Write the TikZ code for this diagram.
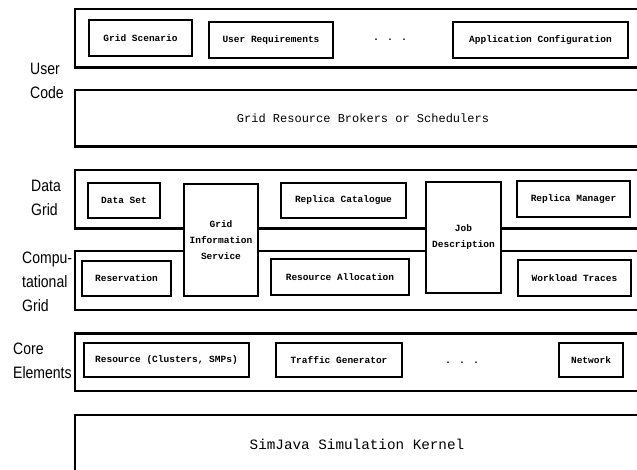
\documentclass[tikz,border=0pt]{standalone}
\usepackage{fontspec}
\setmainfont{Liberation Sans}
\newfontfamily\monofont{Liberation Mono}
\newfontfamily\narrowfont[FakeStretch=0.85]{Liberation Sans}
\begin{document}
\begin{tikzpicture}[x=1pt,y=-1pt,
  outerbox/.style={draw=black,line width=2.5pt,fill=white,inner sep=0pt,outer sep=0pt},
  inbox/.style={draw=black,line width=2.4pt,fill=white,inner sep=0pt,outer sep=0pt,
     font=\monofont\bfseries\fontsize{9.5}{16}\selectfont,align=center},
  bigtext/.style={inner sep=0pt,font=\monofont\fontsize{12}{14}\selectfont},
  sidelabel/.style={inner sep=0pt,anchor=west,align=left,font=\narrowfont\fontsize{16.5}{24}\selectfont},
  dots/.style={inner sep=0pt,font=\monofont\bfseries\fontsize{10}{12}\selectfont}]
\useasboundingbox (0,0) rectangle (637,470);
\clip (0,0) rectangle (637,470);
% outer layers
\node[outerbox,minimum width=624.75pt,minimum height=58.5pt] (user) at (387.6,38.5) {};
\node[outerbox,minimum width=624.75pt,minimum height=56.5pt] (brokers) at (387.6,118.5) {};
\node[outerbox,minimum width=624.75pt,minimum height=58.5pt] (datagrid) at (387.6,199.5) {};
\node[outerbox,minimum width=624.75pt,minimum height=58.5pt] (compgrid) at (387.6,280.5) {};
\node[outerbox,minimum width=624.75pt,minimum height=57.5pt] (core) at (387.6,362) {};
\node[outerbox,minimum width=624.75pt,minimum height=104.75pt] (kernel) at (387.6,467.6) {};
% user code
\node[inbox,minimum width=102.5pt,minimum height=35.5pt] (scen) at (140.5,38) {Grid Scenario};
\node[inbox,minimum width=123.5pt,minimum height=35.5pt] (ureq) at (271,40) {User Requirements};
\node[dots] (udots) at (390,40) {. . .};
\node[inbox,minimum width=174.5pt,minimum height=35.5pt] (appconf) at (540.5,40) {Application Configuration};
\node[bigtext] (brokerstext) at (363,118) {Grid Resource Brokers or Schedulers};
% data grid
\node[inbox,minimum width=71.5pt,minimum height=34.5pt] (dataset) at (124,200.5) {Data Set};
\node[inbox,minimum width=124.5pt,minimum height=34.5pt] (repcat) at (343.5,200.5) {Replica Catalogue};
\node[inbox,minimum width=112.5pt,minimum height=35.5pt] (repman) at (573.5,199) {Replica Manager};
% computational grid
\node[inbox,minimum width=88.5pt,minimum height=34.5pt] (resv) at (126.5,278.5) {Reservation};
\node[inbox,minimum width=137.5pt,minimum height=35.5pt] (resalloc) at (340,277) {Resource Allocation};
\node[inbox,minimum width=112.5pt,minimum height=35.5pt] (wltrace) at (574.5,278) {Workload Traces};
% spanning boxes
\node[inbox,minimum width=73.5pt,minimum height=111.5pt] (gis) at (221,240) {Grid\\Information\\Service};
\node[inbox,minimum width=74.5pt,minimum height=110.5pt] (jobdesc) at (463.5,237.5) {Job\\Description};
% core elements
\node[inbox,minimum width=164.5pt,minimum height=33.5pt] (resource) at (166.5,360) {Resource (Clusters, SMPs)};
\node[inbox,minimum width=125.5pt,minimum height=33.5pt] (traffic) at (339,360) {Traffic Generator};
\node[dots] (cdots) at (462,363) {. . .};
\node[inbox,minimum width=63.5pt,minimum height=33.5pt] (network) at (591,360) {Network};
% kernel
\node[bigtext,font=\monofont\fontsize{14.3}{16}\selectfont] (kerneltext) at (357,444) {SimJava Simulation Kernel};
% side labels
\node[sidelabel] (lbluser) at (30,80.5) {User\\Code};
\node[sidelabel] (lbldata) at (31,197.5) {Data\\Grid};
\node[sidelabel] (lblcomp) at (22,282) {Compu-\\tational\\Grid};
\node[sidelabel] (lblcore) at (13,360.5) {Core\\Elements};
\end{tikzpicture}
\end{document}
